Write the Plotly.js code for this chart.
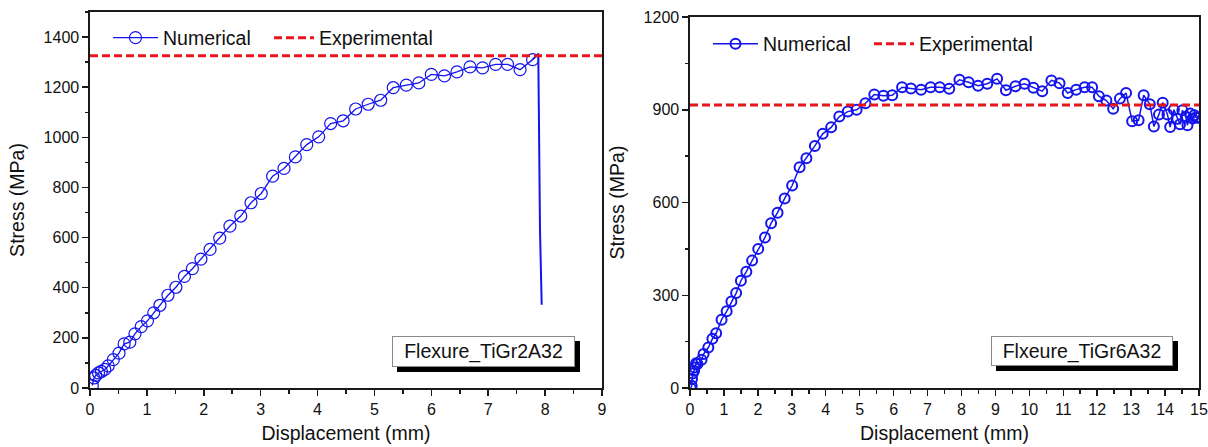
<!DOCTYPE html>
<html>
<head>
<meta charset="utf-8">
<script src="https://cdn.plot.ly/plotly-3.0.1.min.js"></script>
<style>
  html, body { margin: 0; padding: 0; background: #ffffff; }
  #chart { width: 1208px; height: 447px; }
</style>
</head>
<body>
<div id="chart"></div>
<script>
// ---- Left panel: Flexure_TiGr2A32 ----
const leftDisp = [0.04,0.07,0.10,0.15,0.20,0.26,0.32,0.41,0.51,0.60,0.70,0.79,0.90,1.01,1.12,1.23,1.37,1.51,1.66,1.80,1.95,2.11,2.28,2.46,2.65,2.83,3.01,3.21,3.41,3.61,3.81,4.02,4.23,4.45,4.67,4.89,5.11,5.33,5.56,5.78,6.00,6.23,6.45,6.68,6.90,7.13,7.34,7.56,7.78];
const leftStress = [10,40,50,60,66,74,88,113,139,176,183,216,245,268,300,330,370,402,445,476,514,553,598,646,686,739,776,845,876,922,971,1002,1055,1066,1113,1132,1148,1198,1208,1217,1251,1245,1261,1281,1277,1291,1291,1270,1310];
// failure drop after the last marker
const leftTailDisp = [7.78,7.88,7.89,7.91,7.94];
const leftTailStress = [1310,1334,1108,630,332];
const leftExpDisp = [0, 9];
const leftExpStress = [1325, 1325];
const leftLabel = "Flexure_TiGr2A32";

// ---- Right panel: Flxeure_TiGr6A32 ----
const rightDisp = [0.02,0.05,0.06,0.08,0.12,0.13,0.18,0.22,0.34,0.40,0.54,0.66,0.77,0.93,1.08,1.22,1.36,1.50,1.66,1.83,2.01,2.21,2.39,2.58,2.79,3.01,3.23,3.43,3.68,3.91,4.16,4.40,4.65,4.91,5.17,5.43,5.70,5.96,6.25,6.51,6.81,7.09,7.36,7.64,7.94,8.21,8.49,8.76,9.05,9.31,9.59,9.86,10.12,10.38,10.65,10.89,11.13,11.38,11.63,11.85,12.05,12.27,12.47,12.67,12.85,13.03,13.22,13.37,13.55,13.67,13.82,13.93,14.07,14.15,14.26,14.36,14.44,14.51,14.61,14.66,14.74,14.81,14.86,14.92,14.98];
const rightStress = [0,7,29,47,56,66,80,78,91,110,131,159,177,221,248,280,307,347,376,412,450,487,533,567,613,655,714,743,783,822,843,878,894,900,921,949,945,947,973,969,965,973,973,968,997,989,978,984,1000,963,976,984,971,960,995,986,954,965,973,973,944,930,903,936,954,863,866,947,918,846,885,923,885,844,900,871,853,898,877,850,888,872,882,875,874];
const rightExpDisp = [0, 15];
const rightExpStress = [915, 915];
const rightLabel = "Flxeure_TiGr6A32";

const seriesNames = ["Numerical", "Experimental"];

const BLUE = "#1414ee";
const RED = "#e8161c";
const FONT = "Liberation Sans, Arial, sans-serif";
const W = 1208, H = 447;
const px = v => v / W;
const py = v => (H - v) / H;

const traces = [
  { x: leftDisp, y: leftStress, name: seriesNames[0], type: "scatter", mode: "lines+markers",
    line: { color: BLUE, width: 1.3 },
    marker: { symbol: "circle-open", size: 12, color: BLUE, line: { width: 1.2, color: BLUE } },
    xaxis: "x", yaxis: "y", legend: "legend" },
  { x: leftTailDisp, y: leftTailStress, name: seriesNames[0], type: "scatter", mode: "lines",
    line: { color: BLUE, width: 2 }, showlegend: false, xaxis: "x", yaxis: "y", legend: "legend" },
  { x: leftExpDisp, y: leftExpStress, name: seriesNames[1], type: "scatter", mode: "lines",
    line: { color: RED, width: 3, dash: "8px,4px" }, xaxis: "x", yaxis: "y", legend: "legend3" },
  { x: rightDisp, y: rightStress, name: seriesNames[0], type: "scatter", mode: "lines+markers",
    line: { color: BLUE, width: 1.5 },
    marker: { symbol: "circle-open", size: 10, color: BLUE, line: { width: 2, color: BLUE } },
    xaxis: "x2", yaxis: "y2", legend: "legend2" },
  { x: rightExpDisp, y: rightExpStress, name: seriesNames[1], type: "scatter", mode: "lines",
    line: { color: RED, width: 3, dash: "8px,4px" }, xaxis: "x2", yaxis: "y2", legend: "legend4" }
];

const tickFont = { family: FONT, size: 16, color: "#111" };
const titleFont = { family: FONT, size: 19.5, color: "#111" };

function xAx(domain, range, anchor) {
  return {
    domain: domain, range: range, anchor: anchor, dtick: 1, tick0: 0,
    showgrid: false, zeroline: false, showline: true, linecolor: "#1a1a1a", linewidth: 1.6, mirror: true,
    ticks: "outside", ticklen: 6, tickwidth: 1.5, tickcolor: "#1a1a1a",
    minor: { dtick: 0.5, ticks: "outside", ticklen: 4, tickwidth: 1.5, tickcolor: "#1a1a1a", showgrid: false },
    tickfont: tickFont,
    title: { text: "Displacement (mm)", font: titleFont, standoff: 9 },
    fixedrange: true
  };
}
function yAx(domain, range, dtick, anchor) {
  return {
    domain: domain, range: range, anchor: anchor, dtick: dtick, tick0: 0,
    showgrid: false, zeroline: false, showline: true, linecolor: "#1a1a1a", linewidth: 1.6, mirror: true,
    ticks: "outside", ticklen: 6, tickwidth: 1.5, tickcolor: "#1a1a1a",
    minor: { dtick: dtick / 2, ticks: "outside", ticklen: 3, tickwidth: 1.5, tickcolor: "#1a1a1a", showgrid: false },
    tickfont: tickFont,
    title: { text: "Stress (MPa)", font: titleFont, standoff: 14 },
    fixedrange: true
  };
}

function legendAt(xPix, yPix, itemW) {
  return {
    orientation: "h", x: px(xPix), y: py(yPix), xanchor: "left", yanchor: "middle",
    bgcolor: "rgba(0,0,0,0)", borderwidth: 0, itemwidth: itemW,
    font: { family: FONT, size: 19.5, color: "#111" }, tracegroupgap: 0
  };
}

function labelBox(text, x0, y0, x1, y1) {
  return {
    shape: { type: "rect", xref: "paper", yref: "paper",
      x0: px(x0 + 5), x1: px(x1 + 5), y0: py(y1 + 5), y1: py(y0 + 5),
      fillcolor: "#000", line: { width: 0 }, layer: "above" },
    ann: { text: text, xref: "paper", yref: "paper", x: px((x0 + x1) / 2), y: py((y0 + y1) / 2),
      xanchor: "center", yanchor: "middle", showarrow: false,
      width: x1 - x0 - 4, height: y1 - y0 - 4, borderpad: 1, borderwidth: 1,
      bordercolor: "#8a8a8a", bgcolor: "#ffffff",
      font: { family: FONT, size: 19.5, color: "#111" } }
  };
}
const boxL = labelBox(leftLabel, 392, 336, 575, 367);
const boxR = labelBox(rightLabel, 991, 336, 1173, 366);

const layout = {
  width: W, height: H,
  margin: { l: 0, r: 0, t: 0, b: 0 },
  paper_bgcolor: "#ffffff", plot_bgcolor: "#ffffff",
  showlegend: true,
  xaxis: xAx([px(90), px(602)], [0, 9], "y"),
  yaxis: yAx([py(388), py(12)], [0, 1500], 200, "x"),
  xaxis2: xAx([px(690), px(1199)], [0, 15], "y2"),
  yaxis2: yAx([py(388), py(17)], [0, 1200], 300, "x2"),
  legend: legendAt(108, 38, 45),
  legend3: legendAt(269, 38, 40),
  legend2: legendAt(708, 44, 45),
  legend4: legendAt(869, 44, 40),
  shapes: [boxL.shape, boxR.shape],
  annotations: [boxL.ann, boxR.ann]
};

Plotly.newPlot("chart", traces, layout, { displayModeBar: false, staticPlot: true });
</script>
</body>
</html>
